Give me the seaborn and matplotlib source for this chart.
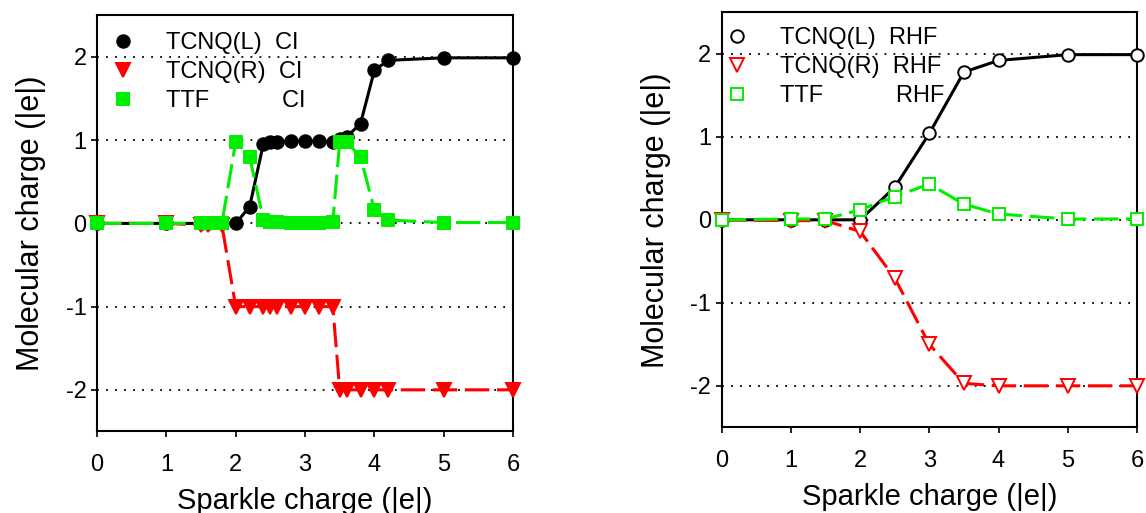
import numpy as np
import pandas as pd
import matplotlib
matplotlib.use('Agg')
import matplotlib.pyplot as plt
import seaborn as sns
from matplotlib.lines import Line2D

# Left panel (CI)
ci_x = [0, 1, 1.5, 1.6, 1.8, 2.0, 2.2, 2.4, 2.5, 2.6, 2.8, 3.0, 3.2, 3.4, 3.5, 3.6, 3.8, 4.0, 4.2, 5, 6]
ci_tcnq_l = [0, 0, 0, 0, 0, 0, 0.2, 0.96, 0.98, 0.98, 0.99, 0.99, 0.99, 0.98, 1.02, 1.04, 1.2, 1.84, 1.96, 1.99, 1.99]
ci_tcnq_r = [0, 0, -0.02, -0.02, -0.02, -1.0, -1.0, -1.0, -1.0, -1.0, -1.0, -1.0, -1.0, -1.0, -2.0, -2.0, -2.0, -2.0, -2.0, -2.0, -2.0]
ci_ttf = [0, 0, 0, 0, 0, 0.98, 0.8, 0.04, 0.02, 0.02, 0.01, 0.01, 0.01, 0.02, 0.98, 0.98, 0.8, 0.16, 0.04, 0.01, 0.01]

# Right panel (RHF)
rhf_x = [0, 1, 1.5, 2.0, 2.5, 3.0, 3.5, 4.0, 5, 6]
rhf_tcnq_l = [0, 0, 0, 0, 0.39, 1.04, 1.78, 1.92, 1.99, 1.99]
rhf_tcnq_r = [0, -0.01, -0.01, -0.14, -0.70, -1.50, -1.97, -2.0, -2.0, -2.0]
rhf_ttf = [0, 0.01, 0.01, 0.12, 0.28, 0.43, 0.19, 0.07, 0.01, 0.01]

labels_ci = ['TCNQ(L)  CI', 'TCNQ(R)  CI', 'TTF           CI']
labels_rhf = ['TCNQ(L)  RHF', 'TCNQ(R)  RHF', 'TTF           RHF']

sns.set_style('ticks')
plt.rcParams['font.family'] = ['Liberation Sans', 'DejaVu Sans']
plt.rcParams['axes.unicode_minus'] = False
plt.rcParams['text.color'] = 'black'
plt.rcParams['axes.labelcolor'] = 'black'

fig = plt.figure(figsize=(11.46, 5.13), dpi=100)
ax1 = fig.add_axes([0.0847, 0.159, 0.3630, 0.811])
ax2 = fig.add_axes([0.6297, 0.167, 0.3624, 0.809])

dash = (0, (8, 2.5))
series = [
    ('black', 'o', '-', 9),
    ('red', 'v', dash, 9.5),
    ('#00ee00', 's', dash, 8),
]


def draw(ax, xs, ys_list, labels, filled, leg_anchor):
    handles = []
    for (col, mk, ls, ms), ys, lab in zip(series, ys_list, labels):
        df = pd.DataFrame({'x': xs, 'y': ys})
        face = col if filled else 'white'
        sns.lineplot(data=df, x='x', y='y', ax=ax, color=col, marker=mk,
                     markersize=ms, markerfacecolor=face, markeredgecolor=col,
                     markeredgewidth=1.4, linestyle=ls, linewidth=2.2,
                     sort=False, errorbar=None, zorder=3, clip_on=False)
        handles.append(Line2D([], [], linestyle='none', marker=mk, color=col,
                              markerfacecolor=face, markeredgecolor=col,
                              markersize=ms, markeredgewidth=1.4, label=lab))
    ax.set_xlim(0, 6)
    ax.set_ylim(-2.5, 2.5)
    ax.set_xticks(range(0, 7))
    ax.set_yticks([-2, -1, 0, 1, 2])
    ax.yaxis.grid(True, linestyle=(0, (1, 4)), color='black', linewidth=1.3)
    ax.xaxis.grid(False)
    for sp in ax.spines.values():
        sp.set_visible(True)
        sp.set_linewidth(1.5)
        sp.set_color('black')
    ax.tick_params(axis='both', labelsize=17, direction='out', length=4, width=1.2,
                   colors='black', labelcolor='black')
    ax.tick_params(axis='x', pad=12)
    ax.set_xlabel('Sparkle charge (|e|)', fontsize=21, labelpad=8, color='black')
    ax.set_ylabel('Molecular charge (|e|)', fontsize=22, labelpad=14, color='black')
    leg = ax.legend(handles=handles, loc='upper left', frameon=False, fontsize=17,
                    handlelength=0.8, handletextpad=1.4, labelspacing=0.3,
                    borderaxespad=0.3, bbox_to_anchor=leg_anchor)
    for t in leg.get_texts():
        t.set_color('black')


draw(ax1, ci_x, [ci_tcnq_l, ci_tcnq_r, ci_ttf], labels_ci, True, (0.0, 1.0))
draw(ax2, rhf_x, [rhf_tcnq_l, rhf_tcnq_r, rhf_ttf], labels_rhf, False, (-0.025, 1.005))

fig.savefig('out.png', dpi=100)
